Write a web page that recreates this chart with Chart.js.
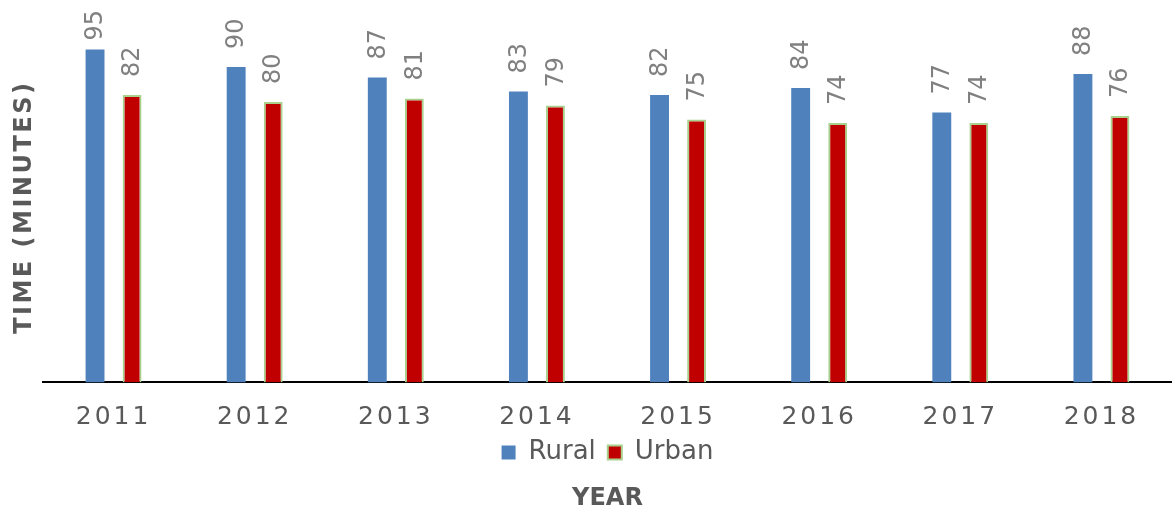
<!DOCTYPE html>
<html lang="en">
<head>
<meta charset="UTF-8">
<title>Time by year</title>
<style>
  body { margin: 0; background: #fff; }
  .wrap { width: 1172px; height: 510px; }
</style>
</head>
<body>
<div class="wrap"><canvas id="chart"></canvas></div>
<script src="https://cdn.jsdelivr.net/npm/chart.js"></script>
<script>
const years = ['2011', '2012', '2013', '2014', '2015', '2016', '2017', '2018'];
const rural = [95, 90, 87, 83, 82, 84, 77, 88];
const urban = [82, 80, 81, 79, 75, 74, 74, 76];

const FONT = 'DejaVu Sans, Verdana, sans-serif';

// letter spacing on axis ticks / titles (Chart.js has no option for it)
const spacing = {
  id: 'spacing',
  beforeDraw(chart) {
    [['x', '3px'], ['y', '2.5px']].forEach(([id, sp]) => {
      const s = chart.scales[id];
      if (!s || s._spaced) return;
      ['drawLabels', 'drawTitle'].forEach(fn => {
        const orig = s[fn];
        s[fn] = function (a) {
          const ctx = this.ctx;
          ctx.save();
          ctx.letterSpacing = sp;
          orig.call(this, a);
          ctx.restore();
        };
      });
      s._spaced = true;
    });
  }
};

// vertical value labels over the bars
const barLabels = {
  id: 'barLabels',
  afterDatasetsDraw(chart) {
    const ctx = chart.ctx;
    chart.data.datasets.forEach((ds, i) => {
      chart.getDatasetMeta(i).data.forEach((bar, j) => {
        const txt = String(ds.data[j]);
        ctx.save();
        ctx.font = '24px ' + FONT;
        ctx.fillStyle = '#808080';
        const w = ctx.measureText(txt).width;
        const y = Math.max(bar.y - 18, 10 + w);
        ctx.translate(bar.x + 1, y);
        ctx.rotate(-Math.PI / 2);
        ctx.textAlign = 'left';
        ctx.textBaseline = 'middle';
        ctx.fillText(txt, 0, 0);
        ctx.restore();
      });
    });
  }
};

new Chart(document.getElementById('chart'), {
  type: 'bar',
  data: {
    labels: years,
    datasets: [{
      label: 'Rural',
      data: rural,
      backgroundColor: '#4F81BD',
      borderWidth: 0
    }, {
      label: 'Urban',
      data: urban,
      backgroundColor: '#C00000',
      borderColor: '#A9D18E',
      borderWidth: 2
    }]
  },
  options: {
    responsive: true,
    maintainAspectRatio: false,
    animation: false,
    categoryPercentage: 0.525,
    barPercentage: 0.51,
    layout: { padding: { top: 32, right: 0, bottom: 0, left: 0 } },
    scales: {
      x: {
        grid: { display: false, drawTicks: false },
        border: { display: true, color: '#000', width: 2 },
        ticks: { color: '#595959', font: { family: FONT, size: 25 }, padding: 20 },
        // tick padding is reserved on both sides; keep only the top part
        afterFit(scale) { scale.height = 45; }
      },
      y: {
        min: 0,
        max: 100,
        grid: { display: false, drawTicks: false },
        border: { display: false },
        ticks: { display: false },
        title: {
          display: true,
          text: 'TIME (MINUTES)',
          color: '#595959',
          font: { family: FONT, size: 24, weight: 'bold' },
          padding: { top: 10.6, bottom: 3.6 }
        }
      }
    },
    plugins: {
      legend: {
        position: 'bottom',
        fullSize: false,
        labels: {
          color: '#595959',
          font: { family: FONT, size: 26 },
          boxWidth: 14,
          boxHeight: 14,
          padding: 12
        }
      },
      title: {
        display: true,
        position: 'bottom',
        fullSize: false,
        text: 'YEAR',
        color: '#595959',
        font: { family: FONT, size: 24, weight: 'bold', lineHeight: 0.9 },
        padding: { top: 13, bottom: 0 }
      },
      tooltip: { enabled: false }
    }
  },
  plugins: [spacing, barLabels]
});
</script>
</body>
</html>
